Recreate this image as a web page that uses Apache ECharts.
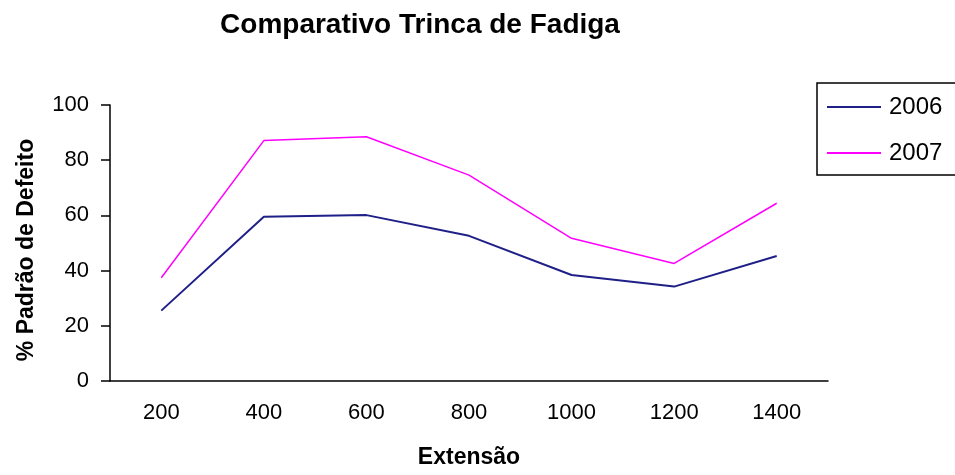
<!DOCTYPE html>
<html>
<head>
<meta charset="utf-8">
<script src="https://cdn.jsdelivr.net/npm/echarts@6/dist/echarts.min.js"></script>
<style>
html,body{margin:0;padding:0;background:#fff;}
#chart{width:955px;height:475px;}
</style>
</head>
<body>
<div id="chart"></div>
<script>
var categories = ['200', '400', '600', '800', '1000', '1200', '1400'];
var series2006 = [25.5, 59.5, 60.1, 52.6, 38.4, 34.2, 45.3];
var series2007 = [37.4, 87.1, 88.5, 74.6, 51.7, 42.6, 64.4];
var seriesNames = ['2006', '2007'];
var titleText = 'Comparativo Trinca de Fadiga';
var xAxisName = 'Extensão';
var yAxisName = '% Padrão de Defeito';

var FONT = '"Liberation Sans", Arial, sans-serif';
var chart = echarts.init(document.getElementById('chart'), null, {renderer: 'canvas'});
chart.setOption({
  animation: false,
  backgroundColor: '#ffffff',
  title: {
    text: titleText,
    left: 415,
    top: 6,
    textAlign: 'center',
    textStyle: {fontFamily: FONT, fontSize: 28, fontWeight: 'bold', color: '#000'}
  },
  legend: {
    orient: 'vertical',
    left: 817,
    top: 83,
    data: seriesNames,
    icon: 'rect',
    itemWidth: 54,
    itemHeight: 2,
    itemGap: 22,
    padding: [12, 40, 10, 10],
    borderColor: '#000',
    borderWidth: 1.5,
    textStyle: {fontFamily: FONT, fontSize: 24, lineHeight: 24, color: '#000', padding: [0, 0, 0, 3]}
  },
  grid: {left: 110, right: 127, top: 105, bottom: 94, containLabel: false},
  xAxis: {
    type: 'category',
    data: categories,
    boundaryGap: true,
    name: xAxisName,
    nameLocation: 'middle',
    nameGap: 65,
    nameTextStyle: {fontFamily: FONT, fontSize: 23, fontWeight: 'bold', color: '#000', verticalAlign: 'top'},
    axisLine: {lineStyle: {color: '#000', width: 1.5}},
    axisTick: {alignWithLabel: true, length: 8, lineStyle: {color: '#000', width: 1.5}},
    axisLabel: {fontFamily: FONT, fontSize: 22, color: '#000', margin: 21},
    splitLine: {show: false}
  },
  yAxis: {
    type: 'value',
    min: 0,
    max: 100,
    interval: 20,
    name: yAxisName,
    nameLocation: 'middle',
    nameGap: 72,
    nameRotate: 90,
    nameTextStyle: {fontFamily: FONT, fontSize: 23, fontWeight: 'bold', color: '#000', padding: [0, 14, 0, 0]},
    axisLine: {show: true, lineStyle: {color: '#000', width: 1.5}},
    axisTick: {show: true, length: 9, lineStyle: {color: '#000', width: 1.5}},
    axisLabel: {fontFamily: FONT, fontSize: 22, color: '#000', margin: 21},
    splitLine: {show: false}
  },
  series: [
    {
      name: seriesNames[0],
      type: 'line',
      data: series2006,
      symbol: 'none',
      lineStyle: {color: '#1f1f88', width: 2},
      itemStyle: {color: '#1f1f88'}
    },
    {
      name: seriesNames[1],
      type: 'line',
      data: series2007,
      symbol: 'none',
      lineStyle: {color: '#ff00ff', width: 1.5},
      itemStyle: {color: '#ff00ff'}
    }
  ]
});
</script>
</body>
</html>
